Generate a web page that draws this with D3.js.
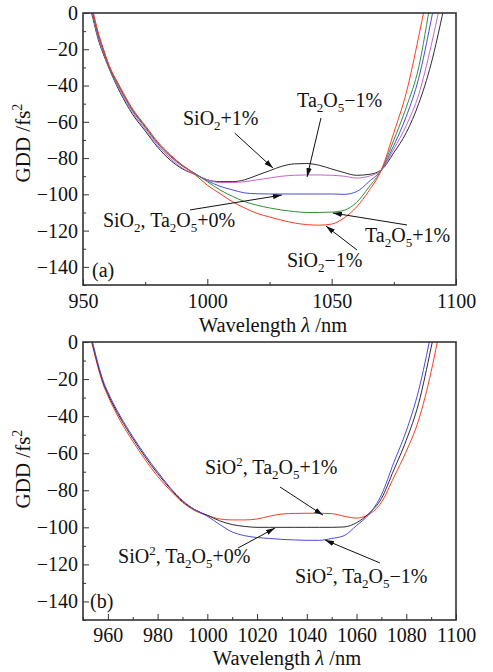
<!DOCTYPE html>
<html>
<head>
<meta charset="utf-8">
<script src="https://cdn.jsdelivr.net/npm/d3@7"></script>
<style>
body { margin: 0; background: #fff; }
svg text { font-family: "Liberation Serif", "DejaVu Serif", serif; fill: #111; }
</style>
</head>
<body>
<div id="plot"></div>
<script>
// Wavelength grid (nm), shared by both panels
var wavelengths = [952, 954, 956, 958, 960, 965, 970, 975, 980, 985, 990, 995, 1000, 1005, 1010, 1015,
    1020, 1025, 1030, 1035, 1040, 1045, 1050, 1055, 1060, 1065, 1070, 1075, 1080, 1085, 1090, 1095];

// Panel (a): GDD (fs^2)
var gddA_SiO2p1 = [8, -3, -14, -22, -29, -44, -56, -65, -74, -81, -86, -89, -92, -93, -93, -92,
    -89.5, -87, -84.5, -83.2, -83, -84, -86, -88, -89.5, -89, -86.5, -77, -66, -50, -28, 2];
var gddA_Ta2O5m1 = [9, -2, -13, -21, -28.5, -43, -55, -64, -73, -80, -85.5, -89, -92, -93.5, -93.5, -93,
    -92, -91, -90, -89.5, -89.3, -89.3, -89.5, -90, -91, -90, -86.5, -75, -62, -45, -18, 14];
var gddA_0 = [10, -1, -12, -20, -28, -42, -54, -63, -72, -79, -84.5, -88.5, -92.5, -95.5, -97.5, -99.2,
    -99.7, -99.8, -99.8, -99.8, -99.8, -99.8, -99.8, -100, -98.5, -93, -86.5, -73, -57, -36, -4, 32];
var gddA_Ta2O5p1 = [11, 0, -11, -19.5, -27.5, -41.5, -53.5, -62.5, -71.5, -78.5, -84, -88.5, -93, -97.5, -101, -104,
    -106, -107.5, -108.7, -109.5, -110, -110, -109.8, -108.8, -104.5, -96, -86.5, -70, -52, -30, 8, 45];
var gddA_SiO2m1 = [12, 1, -10, -19, -27, -41, -53, -62, -71, -78, -84, -89, -95, -99.5, -104, -107.5,
    -110.5, -112.5, -114.3, -115.8, -116.7, -117, -116.4, -113, -107, -98, -86.5, -66, -44, -13, 22, 60];

// Panel (b): GDD (fs^2)
var gddB_p1 = [8, -3, -13.5, -22.5, -29, -42.5, -53.5, -63.5, -72.5, -80, -86.5, -91, -93.5, -95.5, -96, -96,
    -95.5, -94, -92.8, -92.5, -92.4, -92.4, -92.6, -94, -95, -93, -86.5, -73, -59, -42, -16, 18];
var gddB_0 = [9, -2, -12.5, -21.5, -28, -41, -52, -62, -71, -79, -86, -90.5, -93.5, -96.5, -98.5, -99.5,
    -100, -100, -100, -100, -100, -100, -100, -99.8, -97.5, -92.5, -84.5, -69, -53, -33, -3, 30];
var gddB_m1 = [10, -1, -11.5, -20.5, -27, -40, -51, -61, -70, -78.5, -85.5, -90.5, -94, -98.5, -102.5, -104.5,
    -105.5, -106, -106.5, -106.8, -107, -107, -106, -104.5, -99, -93, -82.5, -65, -48, -26, 5, 40];

// Tick values
var xTicksA = [950, 1000, 1050, 1100];
var xMinorA = [975, 1025, 1075];
var xTicksB = [960, 980, 1000, 1020, 1040, 1060, 1080, 1100];
var xMinorB = [950, 970, 990, 1010, 1030, 1050, 1070, 1090];
var yTicks = [0, -20, -40, -60, -80, -100, -120, -140];
var yMinor = [-10, -30, -50, -70, -90, -110, -130, -150];

// Annotations: text anchor and arrow (from -> to), in data units
var labelsA = [
    {text: "SiO_2+1%", at: [990.2, -61.8], from: [1011, -66.2], to: [1026.4, -85.5]},
    {text: "Ta_2O_5\u22121%", at: [1036.1, -51.8], from: [1045.7, -57.9], to: [1040.1, -90.4]},
    {text: "SiO_2, Ta_2O_5+0%", at: [958, -118], from: [993, -108.6], to: [1030, -100.4]},
    {text: "Ta_2O_5+1%", at: [1063.4, -126.3], from: [1080.3, -116.9], to: [1050.5, -110.3]},
    {text: "SiO_2\u22121%", at: [1032, -140], from: [1060.2, -130.7], to: [1047.7, -117.5]}
];
var labelsB = [
    {text: "SiO^2, Ta_2O_5+1%", at: [999.1, -71.2], from: [1029.2, -78.2], to: [1046.5, -93.4]},
    {text: "SiO^2, Ta_2O_5+0%", at: [964.1, -119.5], from: [1012.3, -111.2], to: [1027.2, -100.4]},
    {text: "SiO^2, Ta_2O_5\u22121%", at: [1035.3, -130], from: [1069.4, -119.2], to: [1047.3, -106.8]}
];

var FONT = "'Liberation Serif', 'DejaVu Serif', serif";
var W = 493, H = 672;
var svg = d3.select("#plot")
    .append("svg")
        .attr("width", W)
        .attr("height", H)
        .attr("font-family", FONT);

// arrow head
svg.append("defs").append("marker")
    .attr("id", "arrow")
    .attr("viewBox", "0 0 10 6")
    .attr("refX", 10)
    .attr("refY", 3)
    .attr("markerWidth", 9)
    .attr("markerHeight", 5.5)
    .attr("markerUnits", "userSpaceOnUse")
    .attr("orient", "auto")
    .append("path")
        .attr("d", "M0,0L10,3L0,6Z")
        .attr("fill", "#111");

// writes "SiO_2" / "SiO^2" with sub/superscripts
function richText(sel, str, small) {
    var parts = str.split(/([_^].)/);
    var shift = 0;
    parts.forEach(function(p) {
        if (!p) return;
        var target = 0, txt = p, sub = false;
        if (p[0] === "_") { target = 5; txt = p.slice(1); sub = true; }
        else if (p[0] === "^") { target = -8; txt = p.slice(1); sub = true; }
        var t = sel.append("tspan").attr("dy", target - shift).text(txt);
        if (sub) t.attr("font-size", small);
        shift = target;
    });
}

function drawPanel(cfg) {
    var width = 373, height = cfg.height;
    var g = svg.append("g")
        .attr("transform", "translate(83," + cfg.top + ")");

    var x = d3.scaleLinear().domain([950, 1100]).range([0, width]);
    var y = d3.scaleLinear().domain([-150, 0]).range([height, 0]);

    g.append("clipPath").attr("id", "clip" + cfg.id)
        .append("rect").attr("width", width).attr("height", height);

    // curves
    var line = d3.line()
        .x(function(d) { return x(d[0]); })
        .y(function(d) { return y(d[1]); })
        .curve(d3.curveMonotoneX);
    cfg.series.forEach(function(s) {
        g.append("path")
            .datum(wavelengths.map(function(w, i) { return [w, s.values[i]]; }))
            .attr("clip-path", "url(#clip" + cfg.id + ")")
            .attr("fill", "none")
            .attr("stroke", s.color)
            .attr("stroke-width", 1)
            .attr("d", line);
    });

    // axes (ticks pointing inward)
    g.append("g")
        .attr("transform", "translate(0," + height + ")")
        .call(d3.axisBottom(x).tickValues(cfg.xTicks).tickFormat(d3.format("d"))
            .tickSizeInner(-6).tickSizeOuter(0).tickPadding(cfg.xPad));
    g.append("g")
        .attr("transform", "translate(0," + height + ")")
        .call(d3.axisBottom(x).tickValues(cfg.xMinor).tickFormat("")
            .tickSizeInner(-3).tickSizeOuter(0));
    g.append("g")
        .call(d3.axisLeft(y).tickValues(yTicks)
            .tickSizeInner(-6).tickSizeOuter(0).tickPadding(5));
    g.append("g")
        .call(d3.axisLeft(y).tickValues(yMinor).tickFormat("")
            .tickSizeInner(-3).tickSizeOuter(0));
    g.selectAll(".domain").remove();
    g.selectAll("g").attr("font-family", FONT).attr("font-size", 20);
    g.selectAll(".tick line").attr("stroke", "#333").attr("stroke-width", 1);
    g.selectAll(".tick text").attr("fill", "#111");

    // frame
    g.append("rect")
        .attr("width", width)
        .attr("height", height)
        .attr("fill", "none")
        .attr("stroke", "#333")
        .attr("stroke-width", 1.6);

    // annotations
    cfg.labels.forEach(function(l) {
        g.append("line")
            .attr("x1", x(l.from[0])).attr("y1", y(l.from[1]))
            .attr("x2", x(l.to[0])).attr("y2", y(l.to[1]))
            .attr("stroke", "#111")
            .attr("stroke-width", 1)
            .attr("marker-end", "url(#arrow)");
        var t = g.append("text")
            .attr("x", x(l.at[0]))
            .attr("y", y(l.at[1]))
            .attr("font-size", 20);
        richText(t, l.text, 13);
    });

    // panel tag
    g.append("text")
        .attr("x", cfg.tag[0])
        .attr("y", cfg.tag[1])
        .attr("font-size", 20)
        .text(cfg.name);

    // axis titles
    g.append("text")
        .attr("x", cfg.xTitle[0])
        .attr("y", cfg.xTitle[1])
        .attr("text-anchor", "middle")
        .attr("font-size", 20.5)
        .html("Wavelength <tspan font-style='italic'>\u03bb</tspan> /nm");
    var yt = g.append("text")
        .attr("transform", "translate(-53," + cfg.yTitleY + ") rotate(-90)")
        .attr("text-anchor", "middle")
        .attr("font-size", 21);
    richText(yt, "GDD /fs^2", 14);
}

drawPanel({
    name: "(a)", id: "A", top: 13, height: 272, xPad: 9,
    xTicks: xTicksA, xMinor: xMinorA,
    series: [
        {values: gddA_SiO2p1, color: "#2b2b2b"},
        {values: gddA_Ta2O5m1, color: "#c865c8"},
        {values: gddA_0, color: "#4a4ae0"},
        {values: gddA_Ta2O5p1, color: "#2f8f3a"},
        {values: gddA_SiO2m1, color: "#ff3b1f"}
    ],
    labels: labelsA,
    tag: [9, 264],
    xTitle: [190, 319],
    yTitleY: 130
});

drawPanel({
    name: "(b)", id: "B", top: 342, height: 278, xPad: 8,
    xTicks: xTicksB, xMinor: xMinorB,
    series: [
        {values: gddB_p1, color: "#ff3b1f"},
        {values: gddB_0, color: "#2b2b2b"},
        {values: gddB_m1, color: "#4a4ae0"}
    ],
    labels: labelsB,
    tag: [7, 266],
    xTitle: [204, 323],
    yTitleY: 127
});
</script>
</body>
</html>
